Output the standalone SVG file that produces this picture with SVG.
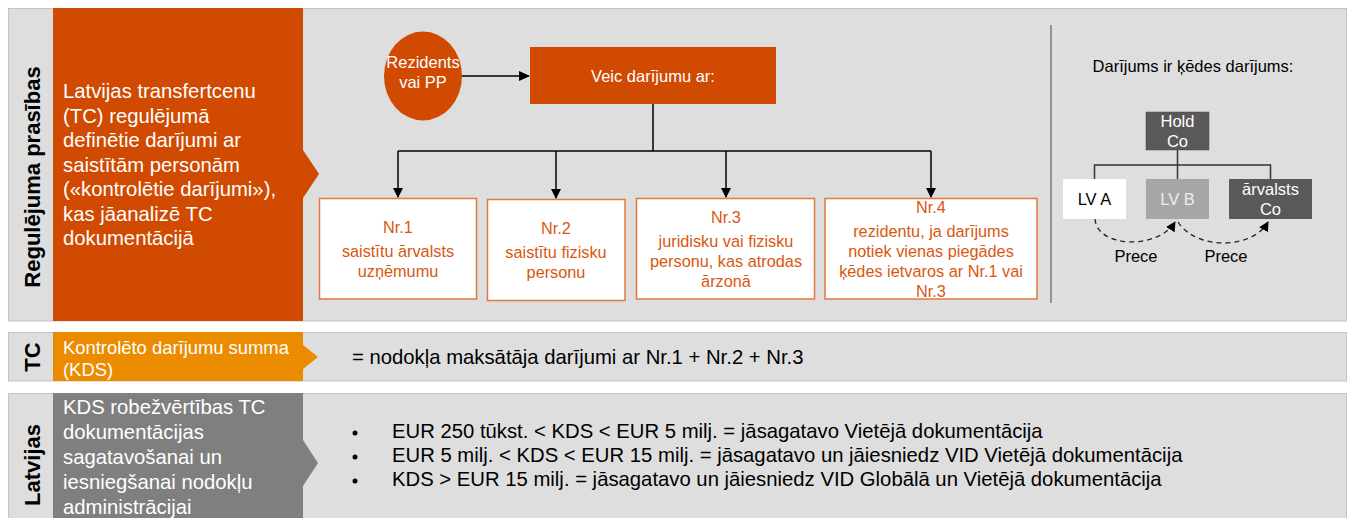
<svg xmlns="http://www.w3.org/2000/svg" width="1348" height="518" viewBox="0 0 1348 518">
<defs>
<style>
text{font-family:"Liberation Sans",Arial,sans-serif}
.band{fill:#DEDEDE;stroke:#C4C4C4;stroke-width:1}
.vlab{font-size:22px;font-weight:bold;fill:#000;text-anchor:middle}
.wt{fill:#fff;font-size:20.3px}
.nrbox{fill:#fff;stroke:#E2793E;stroke-width:1.5}
.nrt{fill:#D9570F;font-size:16.3px;text-anchor:middle}
.ln{stroke:#000;stroke-width:1.5;fill:none}
.tl{stroke:#333;stroke-width:1.5;fill:none}
.dash{stroke:#222;stroke-width:1.3;fill:none;stroke-dasharray:5,4}
.bt{font-size:16.5px;text-anchor:middle}
.blk{fill:#000;font-size:20.3px}
</style>
<marker id="ah" markerWidth="10" markerHeight="10" refX="9" refY="5" orient="auto" markerUnits="userSpaceOnUse">
<path d="M0,0 L10,5 L0,10 Z" fill="#000"/>
</marker>
<marker id="ah2" markerWidth="11" markerHeight="11" refX="10" refY="5" orient="auto" markerUnits="userSpaceOnUse">
<path d="M0,0 L11,5 L0,10 Z" fill="#000"/>
</marker>
</defs>

<!-- bands -->
<g id="bands">
<rect class="band" x="8.5" y="8.5" width="1338" height="312.5"/>
<rect class="band" x="8.5" y="332.5" width="1338" height="48.5"/>
<rect class="band" x="8.5" y="393.5" width="1338" height="130"/>
</g>

<!-- section 1 -->
<g id="sec1-label">
<text class="vlab" transform="translate(40,177) rotate(-90)">Regulējuma prasības</text>
</g>
<g id="sec1-box">
<path d="M53,8 H303 V150 L319,174 L303,198 V321 H53 Z" fill="#D04A02"/>
<text class="wt" x="63" y="98">Latvijas transfertcenu</text>
<text class="wt" x="63" y="122.5">(TC) regulējumā</text>
<text class="wt" x="63" y="147">definētie darījumi ar</text>
<text class="wt" x="63" y="171.5">saistītām personām</text>
<text class="wt" x="63" y="196">(«kontrolētie darījumi»),</text>
<text class="wt" x="63" y="220.5">kas jāanalizē TC</text>
<text class="wt" x="63" y="245">dokumentācijā</text>
</g>

<g id="rezidents">
<ellipse cx="423" cy="76" rx="39" ry="44.5" fill="#D04A02"/>
<text x="423" y="68" fill="#fff" font-size="16.5" text-anchor="middle">Rezidents</text>
<text x="423" y="88" fill="#fff" font-size="16.5" text-anchor="middle">vai PP</text>
</g>
<g id="veic">
<rect x="530" y="47" width="246" height="57" fill="#D04A02"/>
<text x="653" y="82" fill="#fff" font-size="16.5" text-anchor="middle">Veic darījumu ar:</text>
</g>

<g id="nr1">
<rect class="nrbox" x="319.5" y="198.5" width="157" height="100.5"/>
<text class="nrt" x="398" y="233">Nr.1</text>
<text class="nrt" x="398" y="257">saistītu ārvalsts</text>
<text class="nrt" x="398" y="277">uzņēmumu</text>
</g>
<g id="nr2">
<rect class="nrbox" x="487.5" y="199.5" width="137.5" height="101"/>
<text class="nrt" x="556" y="234">Nr.2</text>
<text class="nrt" x="556" y="258">saistītu fizisku</text>
<text class="nrt" x="556" y="278">personu</text>
</g>
<g id="nr3">
<rect class="nrbox" x="636.5" y="198.5" width="178" height="100.5"/>
<text class="nrt" x="726" y="223">Nr.3</text>
<text class="nrt" x="726" y="247">juridisku vai fizisku</text>
<text class="nrt" x="726" y="267">personu, kas atrodas</text>
<text class="nrt" x="726" y="287">ārzonā</text>
</g>
<g id="nr4">
<rect class="nrbox" x="825" y="198.5" width="212" height="100.5"/>
<text class="nrt" x="931" y="213">Nr.4</text>
<text class="nrt" x="931" y="237">rezidentu, ja darījums</text>
<text class="nrt" x="931" y="257">notiek vienas piegādes</text>
<text class="nrt" x="931" y="277">ķēdes ietvaros ar Nr.1 vai</text>
<text class="nrt" x="931" y="297">Nr.3</text>
</g>

<g id="connectors">
<line class="ln" x1="462" y1="76" x2="529" y2="76" marker-end="url(#ah2)"/>
<polyline class="ln" points="653,104 653,151"/>
<polyline class="ln" points="398,151 931,151"/>
<line class="ln" x1="398" y1="151" x2="398" y2="197" marker-end="url(#ah)"/>
<line class="ln" x1="556" y1="151" x2="556" y2="198" marker-end="url(#ah)"/>
<line class="ln" x1="726" y1="151" x2="726" y2="197" marker-end="url(#ah)"/>
<line class="ln" x1="931" y1="151" x2="931" y2="197" marker-end="url(#ah)"/>
<line x1="1051" y1="25" x2="1051" y2="303" stroke="#7A7A7A" stroke-width="1.5"/>
<polyline class="tl" points="1177.5,150 1177.5,179"/>
<polyline class="tl" points="1094.5,179 1094.5,165 1270.5,165 1270.5,179"/>
<path class="dash" d="M1095,219 C1097,248 1158,250 1175,222" marker-end="url(#ah)"/>
<path class="dash" d="M1178,222 C1196,250 1252,250 1268,222" marker-end="url(#ah)"/>
</g>

<g id="chain">
<text x="1193" y="72" font-size="16.5" text-anchor="middle" fill="#000">Darījums ir ķēdes darījums:</text>
</g>
<g id="holdco">
<rect x="1146" y="112" width="63" height="38" fill="#595959" stroke="#4a4a4a" stroke-width="0.5"/>
<text class="bt" x="1177.5" y="127" fill="#fff">Hold</text>
<text class="bt" x="1177.5" y="147" fill="#fff">Co</text>
</g>
<g id="lva">
<rect x="1063" y="179" width="63" height="40" fill="#fff"/>
<text class="bt" x="1094.5" y="205" fill="#000">LV A</text>
</g>
<g id="lvb">
<rect x="1146" y="179" width="63" height="40" fill="#A6A6A6"/>
<text class="bt" x="1177.5" y="205" fill="#EDEDED">LV B</text>
</g>
<g id="arvalsts">
<rect x="1229" y="179" width="83" height="40" fill="#595959"/>
<text class="bt" x="1270.5" y="195" fill="#fff">ārvalsts</text>
<text class="bt" x="1270.5" y="215" fill="#fff">Co</text>
</g>
<g id="prece-labels">
<text class="bt" x="1136" y="262" fill="#000">Prece</text>
<text class="bt" x="1226" y="262" fill="#000">Prece</text>
</g>

<!-- section 2 -->
<g id="sec2-label">
<text class="vlab" transform="translate(40,357) rotate(-90)">TC</text>
</g>
<g id="sec2-box">
<path d="M53,332 H303 V345 L318,357 L303,369 V381 H53 Z" fill="#EB8C00"/>
<text x="63" y="354" fill="#fff" font-size="18.4">Kontrolēto darījumu summa</text>
<text x="63" y="376" fill="#fff" font-size="18.4">(KDS)</text>
</g>
<g id="sec2-text">
<text class="blk" x="352" y="364">= nodokļa maksātāja darījumi ar Nr.1 + Nr.2 + Nr.3</text>
</g>

<!-- section 3 -->
<g id="sec3-label">
<text class="vlab" transform="translate(40,465) rotate(-90)">Latvijas</text>
</g>
<g id="sec3-box">
<path d="M53,393 H303 V440 L318,463 L303,486 V518 H53 Z" fill="#7F7F7F"/>
<text class="wt" x="63" y="414">KDS robežvērtības TC</text>
<text class="wt" x="63" y="439">dokumentācijas</text>
<text class="wt" x="63" y="464">sagatavošanai un</text>
<text class="wt" x="63" y="489">iesniegšanai nodokļu</text>
<text class="wt" x="63" y="514">administrācijai</text>
</g>
<g id="sec3-bullets">
<circle cx="355" cy="433" r="2.5" fill="#000"/>
<circle cx="355" cy="457" r="2.5" fill="#000"/>
<circle cx="355" cy="481" r="2.5" fill="#000"/>
<text class="blk" x="392" y="438">EUR 250 tūkst. &lt; KDS &lt; EUR 5 milj. = jāsagatavo Vietējā dokumentācija</text>
<text class="blk" x="392" y="462">EUR 5 milj. &lt; KDS &lt; EUR 15 milj. = jāsagatavo un jāiesniedz VID Vietējā dokumentācija</text>
<text class="blk" x="392" y="486">KDS &gt; EUR 15 milj. = jāsagatavo un jāiesniedz VID Globālā un Vietējā dokumentācija</text>
</g>
</svg>
